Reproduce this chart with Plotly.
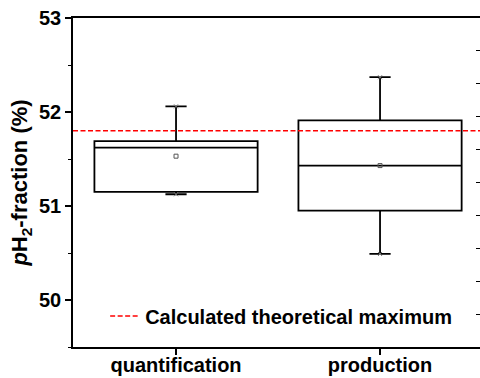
import plotly.graph_objects as go

categories = ["quantification", "production"]
q1 = [51.15, 50.95]
median = [51.62, 51.43]
q3 = [51.69, 51.91]
lower_whisker = [51.125, 50.49]
upper_whisker = [52.06, 52.37]
means = [51.53, 51.43]
theoretical_max = 51.8
legend_label = "Calculated theoretical maximum"
y_ticks = [50, 51, 52, 53]

XRANGE = [-0.505, 1.49]
YRANGE = [49.5, 53.0]
FONT = "Liberation Sans, Arial, sans-serif"

fig = go.Figure()
for i, c in enumerate(categories):
    fig.add_trace(go.Box(
        x=[i], q1=[q1[i]], median=[median[i]], q3=[q3[i]],
        lowerfence=[lower_whisker[i]], upperfence=[upper_whisker[i]],
        width=0.8, whiskerwidth=0.13, fillcolor="white",
        line=dict(color="black", width=1.8), boxpoints=False,
        showlegend=False, hoverinfo="skip", name=c))

fig.add_trace(go.Scatter(
    x=[0, 1], y=means, mode="markers",
    marker=dict(symbol="square-open", size=4, color="#555555", line=dict(width=1)),
    showlegend=False, hoverinfo="skip"))

fig.add_trace(go.Scatter(
    x=[0, 0, 1, 1], y=[upper_whisker[0], lower_whisker[0], upper_whisker[1], lower_whisker[1]],
    mode="markers", marker=dict(symbol="x-thin", size=4, line=dict(width=1, color="#777777")),
    showlegend=False, hoverinfo="skip"))

fig.add_trace(go.Scatter(
    x=XRANGE, y=[theoretical_max, theoretical_max], mode="lines",
    line=dict(color="#ff0000", width=1.6, dash="5px,2.5px"),
    name="<b>%s</b>" % legend_label, showlegend=True, hoverinfo="skip"))

# decorative right axis (tick marks only)
fig.add_trace(go.Scatter(x=[0], y=[1], xaxis="x", yaxis="y2", mode="markers",
                         marker=dict(opacity=0), showlegend=False, hoverinfo="skip"))

fig.update_layout(
    width=480, height=378,
    margin=dict(l=73, r=0, t=18, b=31),
    paper_bgcolor="white", plot_bgcolor="rgba(0,0,0,0)",
    font=dict(family=FONT, color="black"),
    showlegend=True,
    legend=dict(x=0.079, y=0.094, xanchor="left", yanchor="middle",
                bgcolor="rgba(0,0,0,0)", font=dict(size=20, family=FONT),
                itemwidth=30),
    xaxis=dict(range=XRANGE, tickvals=[0, 1],
               ticktext=["<b>%s</b>" % c for c in categories],
               showline=True, mirror=True, linecolor="black", linewidth=1.6,
               ticks="outside", ticklen=6, tickwidth=1.6, tickcolor="black",
               ticklabelstandoff=-7,
               tickfont=dict(size=20, family=FONT), showgrid=False, zeroline=False,
               automargin=False),
    yaxis=dict(range=YRANGE, tickvals=y_ticks,
               ticktext=["<b>%d</b>" % v for v in y_ticks],
               showline=True, linecolor="black", linewidth=1.6,
               ticks="outside", ticklen=6, tickwidth=1.6, tickcolor="black",
               minor=dict(dtick=0.5, tick0=50, ticks="outside", ticklen=3, tickwidth=1.2, tickcolor="black"),
               tickfont=dict(size=20, family=FONT), showgrid=False, zeroline=False,
               title=dict(text="<b><i>p</i>H<sub>2</sub>-fraction (%)</b>",
                          font=dict(size=22, family=FONT), standoff=5),
               automargin=False),
    yaxis2=dict(overlaying="y", side="right", anchor="x", range=[0, 5],
                dtick=0.5, tick0=0, showticklabels=False, showline=False,
                ticks="inside", ticklen=4, tickwidth=1.2, tickcolor="black",
                showgrid=False, zeroline=False, automargin=False),
)

fig.write_html("out.html", config={"displayModeBar": False},
               post_script="document.body.style.margin='0';document.body.style.overflow='hidden';")
